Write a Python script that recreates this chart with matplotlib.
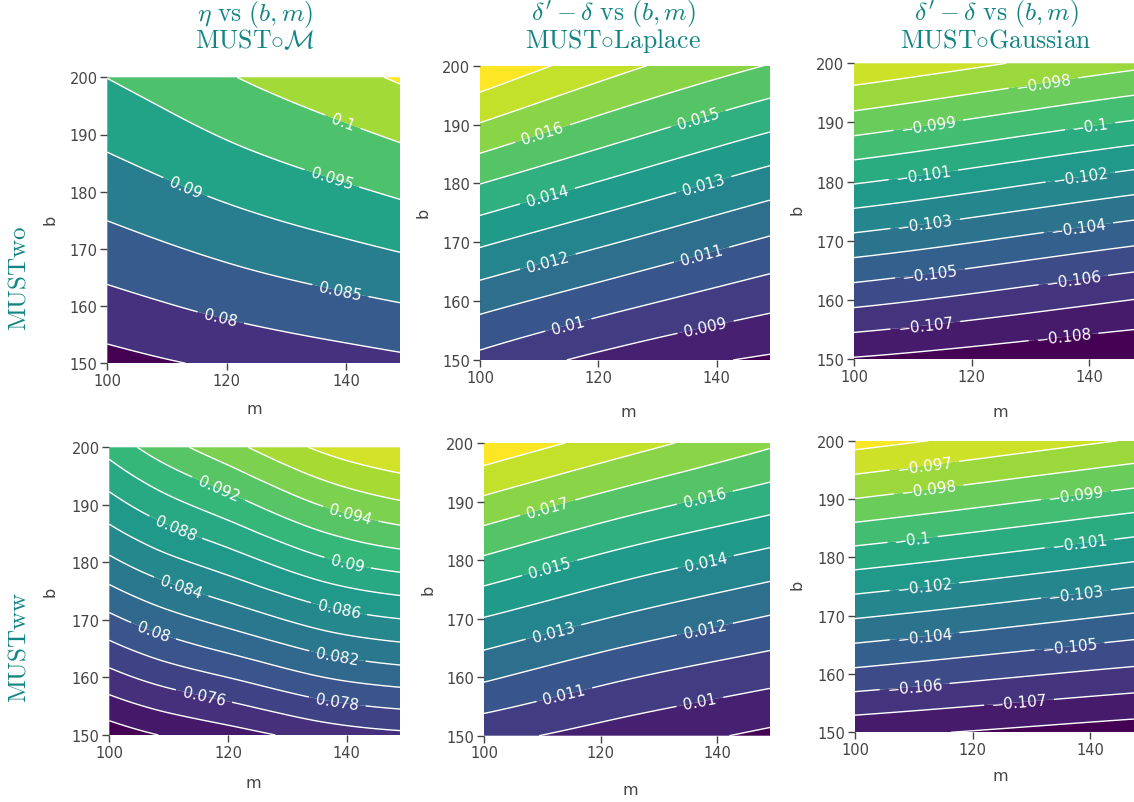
import numpy as np
import matplotlib
matplotlib.use('Agg')
import matplotlib.pyplot as plt
import matplotlib.tri as mtri
from matplotlib.colors import LinearSegmentedColormap

plt.rcParams['mathtext.fontset'] = 'cm'
plt.rcParams['font.family'] = ['DejaVu Sans']

# ---------------- data ----------------
b_values = [150, 160, 170, 180, 190, 200]

# eta vs (b, m), MUST o M, MUSTwo
m_eta_wo = [100, 110, 120, 135, 149]
eta_wo = [
    [0.07332, 0.07462, 0.07582, 0.07747, 0.07888],
    [0.07822, 0.07974, 0.08120, 0.08306, 0.08466],
    [0.08284, 0.08452, 0.08617, 0.08837, 0.09033],
    [0.08717, 0.08905, 0.09095, 0.09345, 0.09570],
    [0.09123, 0.09329, 0.09542, 0.09819, 0.10069],
    [0.09507, 0.09729, 0.09962, 0.10268, 0.10557],
]

# delta' - delta, MUST o Laplace, MUSTwo
m_lap_wo = [100, 124.5, 149]
lap_wo = [
    [0.00972, 0.00858, 0.00786],
    [0.01138, 0.01026, 0.00930],
    [0.01316, 0.01195, 0.01083],
    [0.01502, 0.01371, 0.01248],
    [0.01694, 0.01548, 0.01422],
    [0.01887, 0.01721, 0.01595],
]

# delta' - delta, MUST o Gaussian, MUSTwo
m_gau_wo = [100, 149]
gau_wo = [
    [-0.10807, -0.10895],
    [-0.10569, -0.10705],
    [-0.10332, -0.10484],
    [-0.10090, -0.10252],
    [-0.09846, -0.10013],
    [-0.09615, -0.09777],
]

# eta vs (b, m), MUST o M, MUSTww
m_eta_ww = [100, 110, 120, 134, 149]
eta_ww = [
    [0.07089, 0.07219, 0.07317, 0.07463, 0.07559],
    [0.07529, 0.07684, 0.07800, 0.07975, 0.08089],
    [0.07947, 0.08126, 0.08264, 0.08460, 0.08590],
    [0.08352, 0.08544, 0.08694, 0.08926, 0.09085],
    [0.08720, 0.08936, 0.09111, 0.09378, 0.09565],
    [0.09073, 0.09327, 0.09530, 0.09808, 0.09979],
]

# delta' - delta, MUST o Laplace, MUSTww
m_lap_ww = [100, 124.5, 149]
lap_ww = [
    [0.01031, 0.00952, 0.00879],
    [0.01216, 0.01107, 0.01029],
    [0.01396, 0.01284, 0.01190],
    [0.01585, 0.01460, 0.01363],
    [0.01780, 0.01649, 0.01541],
    [0.01975, 0.01843, 0.01716],
]

# delta' - delta, MUST o Gaussian, MUSTww
m_gau_ww = [100, 149]
gau_ww = [
    [-0.10773, -0.10853],
    [-0.10526, -0.10631],
    [-0.10288, -0.10414],
    [-0.10048, -0.10187],
    [-0.09802, -0.09949],
    [-0.09563, -0.09713],
]

# contour settings (start, end, step) as in the chart
contours_eta_wo = (0.075, 0.105, 0.005)
contours_lap_wo = (0.008, 0.018, 0.001)
contours_gau_wo = (-0.108, -0.096, 0.001)
contours_eta_ww = (0.072, 0.100, 0.002)
contours_lap_ww = (0.009, 0.019, 0.001)
contours_gau_ww = (-0.108, -0.096, 0.001)

x_ticks = [100, 120, 140]
y_ticks = [150, 160, 170, 180, 190, 200]

col_titles_1 = [r'$\eta\ \mathrm{vs}\ (b,m)$', r"$\delta' - \delta\ \mathrm{vs}\ (b,m)$",
                r"$\delta' - \delta\ \mathrm{vs}\ (b,m)$"]
col_titles_2 = [r'$\mathrm{MUST}{\circ}\mathcal{M}$', r'$\mathrm{MUST}{\circ}\mathrm{Laplace}$',
                r'$\mathrm{MUST}{\circ}\mathrm{Gaussian}$']
row_titles = [r'$\mathrm{MUSTwo}$', r'$\mathrm{MUSTww}$']

# ---------------- layout ----------------
W, H = 1134, 803
fig = plt.figure(figsize=(W / 100, H / 100), dpi=100)

viridis = LinearSegmentedColormap.from_list(
    'pviridis', ['#440154', '#482878', '#3e4989', '#31688e', '#26828e',
                 '#1f9e89', '#35b779', '#6ece58', '#b5de2b', '#fde725'])

TEAL = '#128484'
GRAY = '#444444'


def fmt(v):
    s = ('%.4f' % v).rstrip('0').rstrip('.')
    return s.replace('-', '\u2212')


def smooth_field(m, z):
    M, B = np.meshgrid(m, b_values)
    nx, ny = len(m), len(b_values)
    tris = []
    for j in range(ny - 1):
        for i in range(nx - 1):
            p = j * nx + i
            tris.append([p, p + 1, p + nx + 1])
            tris.append([p, p + nx + 1, p + nx])
    tri = mtri.Triangulation(M.ravel().astype(float), B.ravel().astype(float), tris)
    zz = np.asarray(z, dtype=float).ravel()
    interp = mtri.CubicTriInterpolator(tri, zz, kind='min_E')
    refiner = mtri.UniformTriRefiner(tri)
    return refiner.refine_field(zz, triinterpolator=interp, subdiv=4)


def draw(px, m, z, contours, label_pos):
    x0, y0, x1, y1 = px
    ax = fig.add_axes([x0 / W, 1 - y1 / H, (x1 - x0) / W, (y1 - y0) / H])
    start, end, step = contours
    n = int(round((end - start) / step)) + 1
    lines = [round(start + i * step, 6) for i in range(n)]
    colors = [viridis(i / n) for i in range(n + 1)]
    tri_f, z_f = smooth_field(m, z)
    ax.tricontourf(tri_f, z_f, levels=[-10.0] + lines + [10.0], colors=colors,
                   antialiased=True)
    cs = ax.tricontour(tri_f, z_f, levels=lines, colors='white', linewidths=1.0,
                       linestyles='solid')
    ax.set_xlim(100, 149)
    ax.set_ylim(150, 200)
    cs.clabel(manual=label_pos, inline=True, inline_spacing=7, fmt=fmt,
              fontsize=11, colors='white')
    ax.set_xticks(x_ticks)
    ax.set_yticks(y_ticks)
    for s in ax.spines.values():
        s.set_visible(False)
    ax.tick_params(direction='out', length=5, width=1, color=GRAY, labelcolor=GRAY,
                   labelsize=10.5, pad=2)
    return ax


labels_1 = [(139.2, 191.6), (137.5, 182.0), (112.8, 180.2), (138.9, 162.1), (119.0, 158.0)]
labels_2 = [(110.7, 188.1), (136.9, 190.9), (111.3, 178.2), (137.7, 180.2), (111.5, 166.6),
            (137.4, 168.0), (114.9, 156.1), (138.1, 155.6)]
labels_3 = [(132.2, 196.8), (112.6, 189.7), (140.2, 189.3), (111.8, 181.1), (138.5, 180.8),
            (112.1, 172.8), (138.2, 172.1), (112.9, 164.7), (137.3, 163.5), (112.1, 156.1),
            (135.6, 154.1)]
labels_4 = [(118.4, 192.8), (140.7, 188.5), (111.2, 186.1), (140.1, 179.7), (112.1, 175.7),
            (138.7, 171.9), (107.3, 167.7), (138.4, 163.5), (115.9, 156.5), (138.4, 155.7)]
labels_5 = [(111.0, 188.7), (137.9, 190.4), (111.3, 178.5), (138.1, 179.3), (111.9, 167.7),
            (137.9, 167.9), (113.9, 156.5), (137.0, 155.7)]
labels_6 = [(111.8, 195.7), (112.5, 191.8), (137.6, 190.7), (109.8, 183.1), (138.2, 182.4),
            (111.8, 175.1), (137.6, 173.9), (111.8, 166.9), (136.5, 164.9), (110.1, 158.3),
            (127.9, 155.3)]

draw((107.3, 78.3, 400, 364.3), m_eta_wo, eta_wo, contours_eta_wo, labels_1)
draw((480, 66.7, 770, 361), m_lap_wo, lap_wo, contours_lap_wo, labels_2)
draw((854, 64.3, 1142, 360), m_gau_wo, gau_wo, contours_gau_wo, labels_3)
draw((109.3, 448.3, 400, 736), m_eta_ww, eta_ww, contours_eta_ww, labels_4)
draw((484, 444, 770, 736.7), m_lap_ww, lap_ww, contours_lap_ww, labels_5)
draw((855, 441.7, 1143, 733.3), m_gau_ww, gau_ww, contours_gau_ww, labels_6)


def ftext(x, y, s, **kw):
    fig.text(x / W, 1 - y / H, s, ha='center', va='center', **kw)


for xc, t1, t2 in zip([255, 613, 996], col_titles_1, col_titles_2):
    ftext(xc, 14, t1, fontsize=18.5, color=TEAL)
    ftext(xc, 41, t2, fontsize=18.5, color=TEAL)

ftext(19, 278, row_titles[0], fontsize=18, color=TEAL, rotation=90)
ftext(19, 647, row_titles[1], fontsize=18, color=TEAL, rotation=90)

for (x, y) in [(254, 410), (628, 413), (1000, 413), (253, 784), (630, 791), (1000, 777)]:
    ftext(x, y, 'm', fontsize=11.5, color=GRAY)
for (x, y) in [(50, 220), (423, 213), (797, 210), (50, 592), (428, 590), (797, 585)]:
    ftext(x, y, 'b', fontsize=11.5, color=GRAY, rotation=90)

fig.savefig('out.png', dpi=100)
